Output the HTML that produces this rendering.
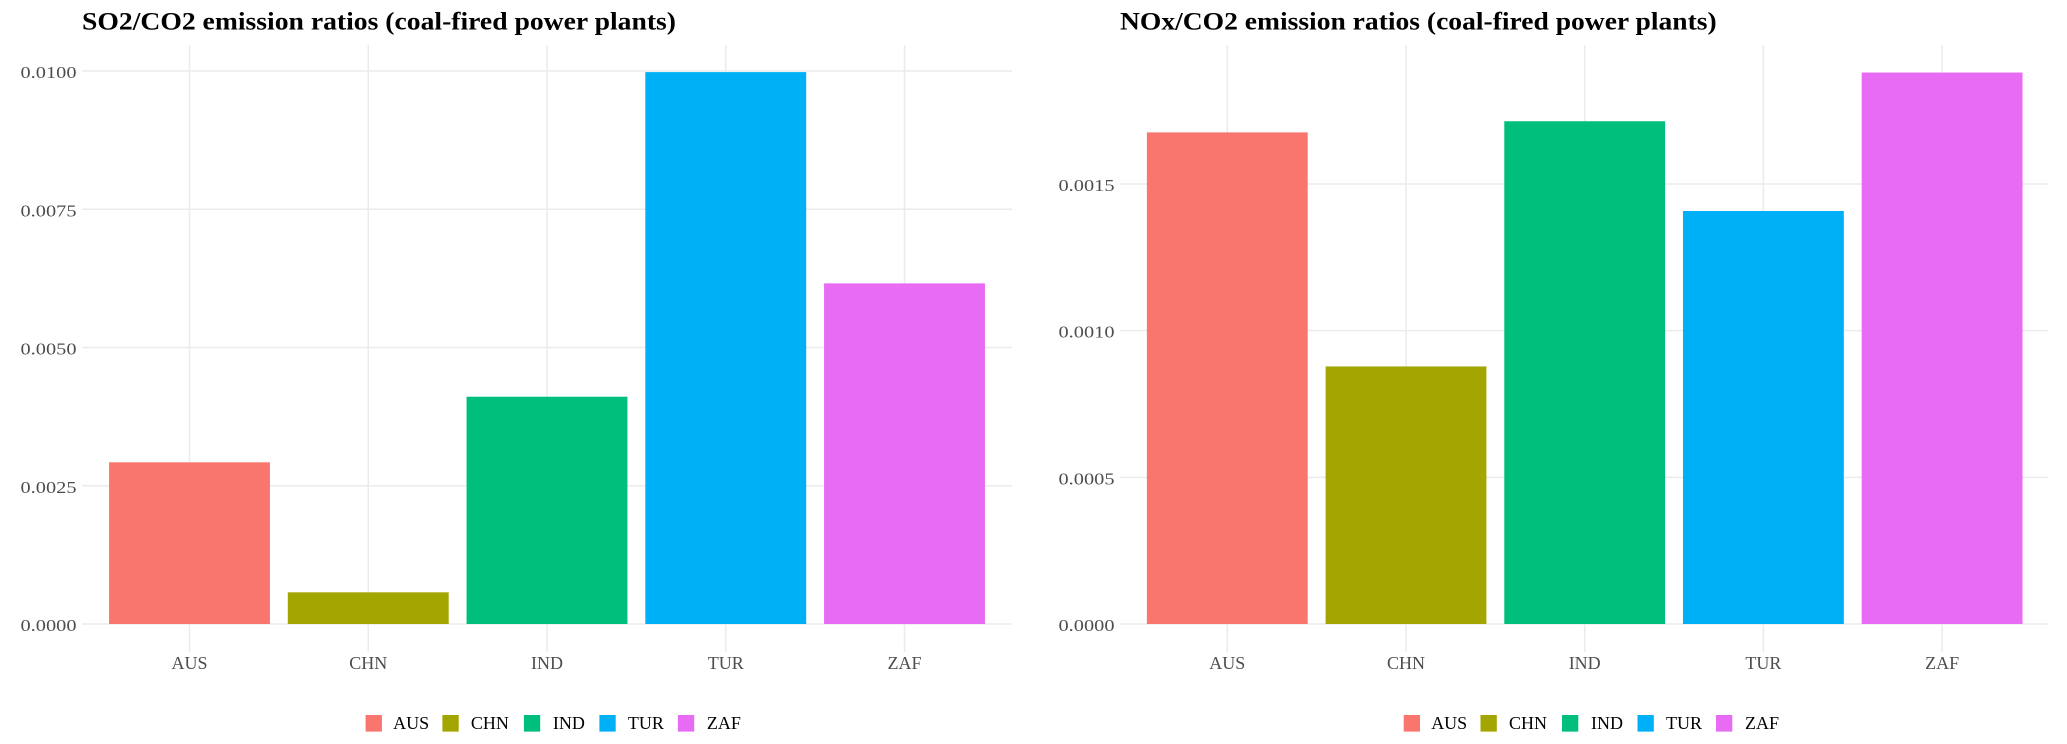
<!DOCTYPE html>
<html lang="en">
<head>
<meta charset="utf-8">
<title>Emission ratios (coal-fired power plants)</title>
<style>
  html, body { margin: 0; padding: 0; background: #fff; }
  body { width: 2067px; height: 744px; overflow: hidden; }
  svg { display: block; font-family: "Liberation Serif", serif; }
</style>
</head>
<body>
<svg id="chart" xmlns="http://www.w3.org/2000/svg" width="2067" height="744" viewBox="0 0 2067 744"></svg>
<script>
const categories = ['AUS', 'CHN', 'IND', 'TUR', 'ZAF'];
const so2Values = [0.002924, 0.000573, 0.00411, 0.00998, 0.00616];
const noxValues = [0.001676, 0.000878, 0.001714, 0.001408, 0.00188];
const so2Ticks = [0, 0.0025, 0.005, 0.0075, 0.01];
const noxTicks = [0, 0.0005, 0.001, 0.0015];
const so2TickLabels = ['0.0000', '0.0025', '0.0050', '0.0075', '0.0100'];
const noxTickLabels = ['0.0000', '0.0005', '0.0010', '0.0015'];
const colors = ['#F8766D', '#A3A500', '#00BF7D', '#00B0F6', '#E76BF3'];
const so2Title = 'SO2/CO2 emission ratios (coal-fired power plants)';
const noxTitle = 'NOx/CO2 emission ratios (coal-fired power plants)';

const svg = document.getElementById('chart');
const NS = 'http://www.w3.org/2000/svg';

function make(tag, attrs, text) {
  const el = document.createElementNS(NS, tag);
  for (const k in attrs) el.setAttribute(k, attrs[k]);
  if (text !== undefined) el.textContent = text;
  return el;
}

function drawPanel(cfg) {
  const g = make('g', {});
  
  
  svg.appendChild(g);

  const top = 45, bottom = 652, y0 = 624, yMaxPx = cfg.yTopPx;
  const step = cfg.step;
  const xScale = i => cfg.firstX + i * step;
  const yScale = v => y0 - (v / cfg.refValue) * (y0 - yMaxPx);

  const title = make('text', {
    x: cfg.left, y: 29.5, 'font-size': 25, 'font-weight': 'bold', fill: '#000',
    textLength: cfg.titleWidth, lengthAdjust: 'spacingAndGlyphs'
  }, cfg.title);
  
  
  g.appendChild(title);

  cfg.ticks.forEach((t, i) => {
    const y = yScale(t);
    const line = make('line', { x1: cfg.left, x2: cfg.right, y1: y, y2: y, stroke: '#EBEBEB', 'stroke-width': 1.5 });
    
    
    g.appendChild(line);

    const label = make('text', {
      x: cfg.left - 5.5, y: y + 7, 'text-anchor': 'end', 'font-size': 17, fill: '#4D4D4D',
      textLength: 56, lengthAdjust: 'spacingAndGlyphs'
    }, cfg.tickLabels[i]);
    
    
    g.appendChild(label);
  });

  categories.forEach((c, i) => {
    const x = xScale(i);
    const line = make('line', { x1: x, x2: x, y1: top, y2: bottom, stroke: '#EBEBEB', 'stroke-width': 1.5 });
    
    
    g.appendChild(line);
  });

  const barW = step * 0.9;
  categories.forEach((c, i) => {
    const yTop = yScale(cfg.values[i]);
    const bar = make('rect', {
      x: xScale(i) - barW / 2, y: yTop, width: barW, height: y0 - yTop, fill: colors[i]
    });
    
    
    g.appendChild(bar);

    const label = make('text', {
      x: xScale(i), y: 669, 'text-anchor': 'middle', 'font-size': 18, fill: '#4D4D4D'
    }, c);
    
    
    g.appendChild(label);
  });

  const swatchOffsets = [0, 76.8, 158.3, 233.8, 312.3];
  const textOffsets = [27.5, 105.3, 187.3, 262.3, 341.3];
  categories.forEach((c, i) => {
    const entry = make('g', {});
    
    
    g.appendChild(entry);
    entry.appendChild(make('rect', {
      x: cfg.legendX + swatchOffsets[i], y: 715, width: 16.3, height: 16.6, fill: colors[i]
    }));
    entry.appendChild(make('text', {
      x: cfg.legendX + textOffsets[i], y: 729, 'font-size': 18, fill: '#000'
    }, c));
  });
}

drawPanel({
  prefix: 'so2', title: so2Title, titleWidth: 594, left: 82, right: 1012,
  firstX: 189.5, step: 178.75, yTopPx: 71, refValue: 0.01,
  ticks: so2Ticks, tickLabels: so2TickLabels, values: so2Values, legendX: 365.6
});
drawPanel({
  prefix: 'nox', title: noxTitle, titleWidth: 596.7, left: 1120, right: 2048.5,
  firstX: 1227.3, step: 178.7, yTopPx: 184, refValue: 0.0015,
  ticks: noxTicks, tickLabels: noxTickLabels, values: noxValues, legendX: 1403.7
});
</script>
</body>
</html>
